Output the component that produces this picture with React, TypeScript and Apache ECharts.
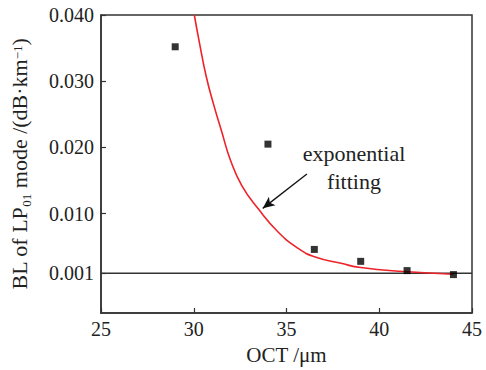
import React, { useEffect, useRef } from 'react';
import * as echarts from 'echarts';

// measured points
const measuredX = [29, 34, 36.5, 39, 41.5, 44];
const measuredY = [0.0352, 0.0205, 0.0046, 0.0028, 0.0014, 0.0008];

// exponential fitting curve
const fitX = [30.03, 30.31, 30.67, 31.07, 31.52, 31.97, 32.59, 33.5, 34.56, 35.63, 36.51, 37.94, 39.01, 41.33, 44.0];
const fitY = [0.04, 0.03576, 0.03075, 0.0265, 0.02226, 0.01815, 0.01425, 0.01065, 0.0072, 0.00475, 0.0035, 0.0025, 0.00186, 0.00126, 0.00085];

// horizontal reference line
const baselineX = [25, 45];
const baselineValue = 0.001;

const yTickValues = [0.001, 0.01, 0.02, 0.03, 0.04];
const arrowFrom = [36.1, 0.016];
const arrowTo = [33.72, 0.0108];

const FONT = 'Liberation Serif';
const TXT = '#222';

export default function App() {
  const ref = useRef<HTMLDivElement>(null);
  useEffect(() => {
    if (!ref.current) return;
    const chart = echarts.init(ref.current, undefined, { renderer: 'svg' });
    const option: any = {
      animation: false,
      backgroundColor: '#fff',
      grid: {
        left: 98,
        right: 14,
        top: 15,
        bottom: 55,
        show: true,
        borderColor: '#333',
        borderWidth: 1.5,
        backgroundColor: 'transparent',
      },
      xAxis: {
        type: 'value',
        min: 25,
        max: 45,
        interval: 5,
        name: 'OCT /μm',
        nameLocation: 'middle',
        nameGap: 31,
        nameTextStyle: { fontFamily: FONT, fontSize: 21, color: TXT },
        axisLine: { show: true, onZero: false, lineStyle: { color: '#333', width: 1.5 } },
        axisTick: { show: true, inside: true, length: 5, lineStyle: { color: '#333', width: 1.2 } },
        axisLabel: { fontFamily: FONT, fontSize: 20, color: TXT, margin: 6 },
        splitLine: { show: false },
      },
      yAxis: {
        type: 'value',
        min: -0.005,
        max: 0.04,
        name: '{a|BL of LP}{sub|01}{a| mode /(dB·km}{sup|−1}{a|)}',
        nameLocation: 'middle',
        nameGap: 68,
        nameTextStyle: {
          fontFamily: FONT,
          color: TXT,
          rich: {
            a: { fontFamily: FONT, fontSize: 22, color: TXT, lineHeight: 22, verticalAlign: 'bottom', padding: [0, 0, 3, 0] },
            sub: { fontFamily: FONT, fontSize: 13, color: TXT, verticalAlign: 'bottom', lineHeight: 16 },
            sup: { fontFamily: FONT, fontSize: 13, color: TXT, verticalAlign: 'top', lineHeight: 16 },
          },
        },
        axisLine: { show: true, onZero: false, lineStyle: { color: '#333', width: 1.5 } },
        axisTick: {
          show: true,
          inside: true,
          length: 5,
          customValues: yTickValues,
          lineStyle: { color: '#333', width: 1.2 },
        },
        axisLabel: {
          fontFamily: FONT,
          fontSize: 20,
          color: TXT,
          margin: 7,
          customValues: yTickValues,
          formatter: (v: number) => v.toFixed(3),
        },
        splitLine: { show: false },
      },
      graphic: [
        {
          type: 'text',
          x: 354,
          y: 167,
          style: {
            text: 'exponential\nfitting',
            fontFamily: FONT,
            fontSize: 22,
            lineHeight: 28,
            fill: TXT,
            textAlign: 'center',
            textVerticalAlign: 'middle',
          },
        },
      ],
      series: [
        {
          type: 'line',
          data: baselineX.map((x) => [x, baselineValue]),
          symbol: 'none',
          lineStyle: { color: '#333', width: 1.4 },
          z: 2,
        },
        {
          type: 'line',
          data: fitX.map((x, i) => [x, fitY[i]]),
          smooth: 0.5,
          symbol: 'none',
          lineStyle: { color: '#ee2229', width: 1.6 },
          clip: true,
          z: 3,
          markLine: {
            silent: true,
            animation: false,
            symbol: ['none', 'arrow'],
            symbolSize: [8, 12],
            label: { show: false },
            lineStyle: { color: '#111', width: 1.3, type: 'solid' },
            data: [[{ coord: arrowFrom }, { coord: arrowTo }]],
          },
        },
        {
          type: 'scatter',
          data: measuredX.map((x, i) => [x, measuredY[i]]),
          symbol: 'rect',
          symbolSize: 7,
          itemStyle: { color: '#000' },
          z: 4,
        },
      ],
    };
    chart.setOption(option);
    return () => chart.dispose();
  }, []);
  return <div ref={ref} style={{ width: 486, height: 370, position: 'absolute', left: 0, top: 0 }} />;
}
